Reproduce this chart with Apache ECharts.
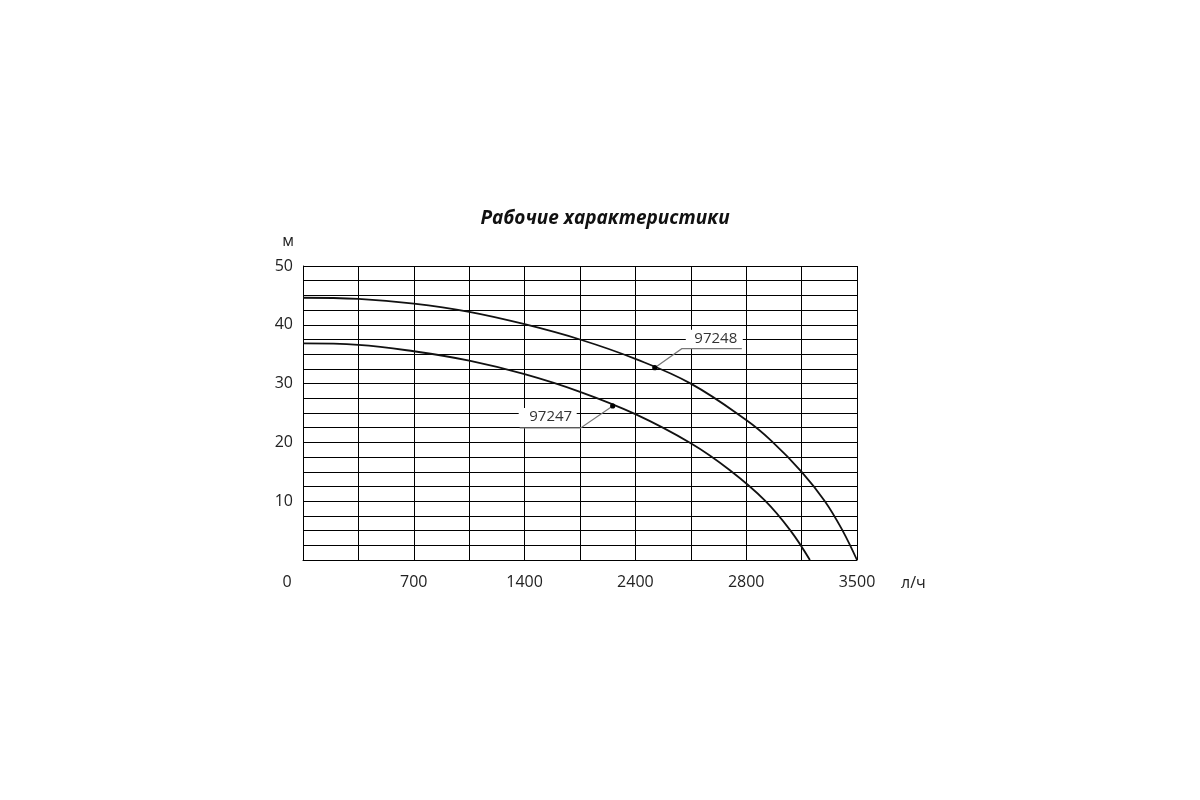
<!DOCTYPE html>
<html>
<head>
<meta charset="utf-8">
<script src="https://cdn.jsdelivr.net/npm/echarts@6/dist/echarts.min.js"></script>
<style>html,body{margin:0;padding:0;background:#fff;}#c{width:1200px;height:800px;}</style>
</head>
<body>
<div id="c"></div>
<script>
// x positions are in grid-column units (0..10); tick labels as printed on the chart
const xTickLabels = ['0', '', '700', '', '1400', '', '2400', '', '2800', '', '3500'];
const curve97248X = [0, 1, 2, 3, 4, 5, 6, 7, 8, 8.45, 9, 9.42, 9.74, 10];
const curve97248Y = [44.6, 44.4, 43.6, 42.2, 40.1, 37.5, 34.2, 30.0, 23.8, 20.3, 15.0, 10.0, 5.0, 0];
const curve97247X = [0, 1, 2, 3, 4, 5, 6, 7, 7.7, 8.34, 8.8, 9.15];
const curve97247Y = [36.85, 36.6, 35.5, 33.9, 31.6, 28.6, 24.8, 19.85, 15.3, 10.1, 5.0, 0];
const annoNames = ['97248', '97247'];
const annoX = [6.35, 5.59];
const annoY = [32.7, 26.2];

const toPairs = (xs, ys) => xs.map((x, i) => [x, ys[i]]);
const FONT = 'Open Sans';
const TXT = '#222';

// leader-line layouts (pixel offsets from the marker)
const layouts = [
  { elbow: [27, -19], end: [87, -19], text: [61, -29], box: [31, -38, 57, 19] },
  { elbow: [-32, 22], end: [-93, 22], text: [-62, 11], box: [-94, 2, 58, 19] }
];

const chart = echarts.init(document.getElementById('c'));
chart.setOption({
  backgroundColor: '#fff',
  animation: false,
  title: {
    text: 'Рабочие характеристики',
    left: 600, top: 204, textAlign: 'center',
    textStyle: { fontFamily: FONT, fontSize: 19, fontWeight: 'bold', fontStyle: 'italic', color: '#111' }
  },
  grid: { left: 303, top: 266, right: 343, bottom: 240, containLabel: false },
  xAxis: {
    type: 'value', min: 0, max: 10, interval: 1,
    name: 'л/ч', nameLocation: 'end', nameGap: 44,
    nameTextStyle: { fontFamily: FONT, fontSize: 16, color: TXT, verticalAlign: 'top', lineHeight: 46 },
    axisLine: { show: true, lineStyle: { color: '#000', width: 1 } },
    axisTick: { show: false },
    splitLine: { show: true, lineStyle: { color: '#000', width: 1 } },
    axisLabel: {
      interval: 0, margin: 14, showMinLabel: true, showMaxLabel: true,
      fontFamily: FONT, fontSize: 16, color: TXT,
      formatter: v => v === 0 ? '{z|0}' : (xTickLabels[Math.round(v)] || ''),
      rich: { z: { fontFamily: FONT, fontSize: 16, color: TXT, padding: [0, 32, 0, 0] } }
    }
  },
  yAxis: {
    type: 'value', min: 0, max: 50, interval: 2.5,
    name: 'м', nameLocation: 'end', nameGap: 17,
    nameTextStyle: { fontFamily: FONT, fontSize: 16, color: TXT, padding: [0, 30, 0, 0] },
    axisLine: { show: true, lineStyle: { color: '#000', width: 1 } },
    axisTick: { show: false },
    splitLine: { show: true, lineStyle: { color: '#000', width: 1 } },
    axisLabel: {
      margin: 10, fontFamily: FONT, fontSize: 16, color: TXT,
      formatter: v => (v > 0 && v % 10 === 0) ? String(v) : ''
    }
  },
  series: [
    {
      name: '97248', type: 'line', data: toPairs(curve97248X, curve97248Y),
      smooth: 0.4, showSymbol: false, symbol: 'none',
      lineStyle: { color: '#111', width: 1.8 }, z: 3, clip: true
    },
    {
      name: '97247', type: 'line', data: toPairs(curve97247X, curve97247Y),
      smooth: 0.4, showSymbol: false, symbol: 'none',
      lineStyle: { color: '#111', width: 1.8 }, z: 3, clip: true
    },
    {
      type: 'custom', z: 4,
      data: annoX.map((x, i) => [x, annoY[i], i]),
      renderItem: (params, api) => {
        const i = api.value(2);
        const p = api.coord([api.value(0), api.value(1)]);
        const L = layouts[i];
        return {
          type: 'group',
          children: [
            { type: 'rect', shape: { x: p[0] + L.box[0], y: p[1] + L.box[1], width: L.box[2], height: L.box[3] },
              style: { fill: '#fff' } },
            { type: 'polyline',
              shape: { points: [[p[0], p[1]], [p[0] + L.elbow[0], p[1] + L.elbow[1]], [p[0] + L.end[0], p[1] + L.end[1]]] },
              style: { stroke: '#777', lineWidth: 1.2, fill: null } },
            { type: 'circle', shape: { cx: p[0], cy: p[1], r: 2.6 }, style: { fill: '#000' } },
            { type: 'text', x: p[0] + L.text[0], y: p[1] + L.text[1],
              style: { text: annoNames[i], fontFamily: FONT, fontSize: 15, fill: '#333', align: 'center', verticalAlign: 'middle' } }
          ]
        };
      }
    }
  ]
});
</script>
</body>
</html>
